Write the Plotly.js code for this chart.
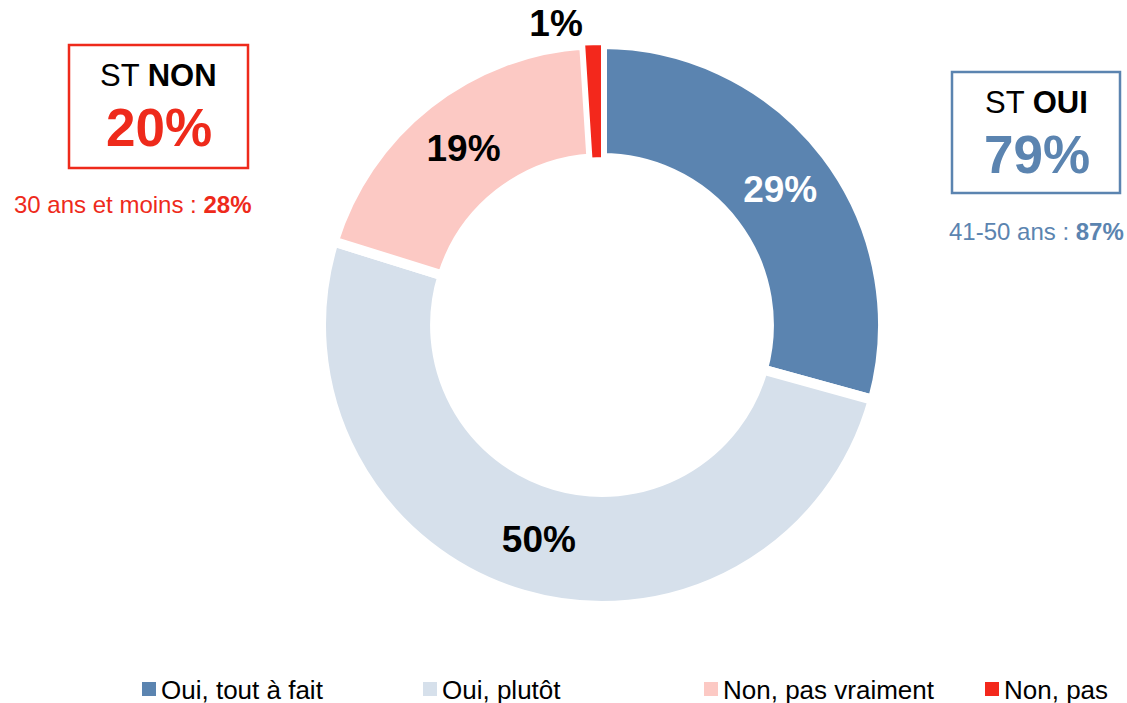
<html>
<head>
<meta charset="utf-8">
<script src="https://cdn.plot.ly/plotly-3.0.1.min.js"></script>
<style>
  body { margin: 0; padding: 0; background: #ffffff; }
  #chart { width: 1127px; height: 703px; }
</style>
</head>
<body>
<div id="chart"></div>
<script>
  // réponses (ordre horaire depuis midi)
  const categories = ['Oui, tout à fait', 'Oui, plutôt', 'Non, pas vraiment', 'Non, pas'];
  const values = [29, 50, 19, 1];
  const colors = ['#5b84b0', '#d6e0eb', '#fcc9c4', '#f3281c'];
  const labelColors = ['#ffffff', '#000000', '#000000', '#000000'];
  const labelPositions = ['inside', 'inside', 'inside', 'outside'];
  const gapWidths = [10, 10, 10, 2];

  // sous-totaux
  const stNon = 20, stOui = 79;
  const stNonDetail = ['30 ans et moins', 28];
  const stOuiDetail = ['41-50 ans', 87];

  const FONT = 'Liberation Sans, Arial, sans-serif';
  const RED = '#ee2a1b';
  const BLUE = '#5b84b0';

  const W = 1127, H = 703;
  const px = x => x / W;
  const py = y => 1 - y / H;

  const trace = {
    type: 'pie',
    labels: categories,
    values: values,
    sort: false,
    direction: 'clockwise',
    rotation: 0,
    hole: 0.594,
    marker: { colors: colors, line: { color: '#ffffff', width: gapWidths } },
    texttemplate: '<b>%{value}%</b>',
    textposition: labelPositions,
    insidetextorientation: 'horizontal',
    insidetextfont: { family: FONT, size: 37, color: labelColors },
    outsidetextfont: { family: FONT, size: 37, color: '#000000' },
    automargin: false,
    hoverinfo: 'label+value',
    domain: { x: [px(321), px(883)], y: [py(606), py(44)] }
  };

  const layout = {
    width: W,
    height: H,
    margin: { l: 0, r: 0, t: 0, b: 0, autoexpand: false },
    paper_bgcolor: '#ffffff',
    font: { family: FONT, color: '#000000' },
    showlegend: true,
    legend: {
      orientation: 'h',
      x: px(121),
      xanchor: 'left',
      y: py(689),
      yanchor: 'middle',
      font: { family: FONT, size: 26, color: '#000000' },
      entrywidth: 236,
      entrywidthmode: 'pixels',
      itemwidth: 30,
      traceorder: 'normal'
    },
    shapes: [
      { type: 'rect', xref: 'paper', yref: 'paper',
        x0: px(69), x1: px(248), y0: py(168), y1: py(45),
        line: { color: RED, width: 2.5 }, fillcolor: 'rgba(0,0,0,0)' },
      { type: 'rect', xref: 'paper', yref: 'paper',
        x0: px(952), x1: px(1120), y0: py(193), y1: py(72),
        line: { color: BLUE, width: 2.5 }, fillcolor: 'rgba(0,0,0,0)' }
    ],
    annotations: [
      { text: 'ST <b>NON</b>', x: px(158), y: py(75), font: { size: 31, color: '#000000' } },
      { text: '<b>' + stNon + '%</b>', x: px(159), y: py(128), font: { size: 53, color: RED } },
      { text: stNonDetail[0] + ' : <b>' + stNonDetail[1] + '%</b>', x: px(132), y: py(204), font: { size: 24, color: RED } },
      { text: 'ST <b>OUI</b>', x: px(1036), y: py(102), font: { size: 31, color: '#000000' } },
      { text: '<b>' + stOui + '%</b>', x: px(1037), y: py(155), font: { size: 53, color: BLUE } },
      { text: stOuiDetail[0] + ' : <b>' + stOuiDetail[1] + '%</b>', x: px(1036), y: py(231), font: { size: 24, color: BLUE } }
    ].map(a => Object.assign({ xref: 'paper', yref: 'paper', showarrow: false, xanchor: 'center', yanchor: 'middle' }, a))
  };

  Plotly.newPlot('chart', [trace], layout, { displayModeBar: false, responsive: false }).then(() => {
    // carrés de légende plus grands, collés au texte
    document.querySelectorAll('path.legendpie').forEach(p => {
      p.setAttribute('d', 'M15,7H1V-7H15Z');
      p.style.strokeWidth = '0px';
    });
  });
</script>
</body>
</html>
